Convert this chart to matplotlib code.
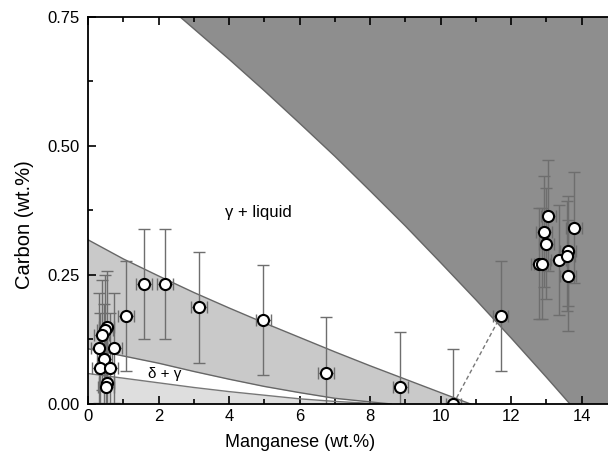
import numpy as np
import matplotlib.pyplot as plt
from matplotlib.ticker import MultipleLocator

plt.rcParams['font.family'] = ['Liberation Sans', 'DejaVu Sans']

# measured compositions (wt.%)
mn = [1.59, 2.18, 3.15, 1.07, 4.97, 6.75, 8.86, 10.36, 11.70,
      0.52, 0.48, 0.38, 0.31, 0.74, 0.46, 0.33, 0.62, 0.52, 0.50,
      13.06, 12.94, 13.00, 12.78, 12.87, 13.35, 13.62, 13.59, 13.62, 13.78]
carbon = [0.233, 0.233, 0.187, 0.171, 0.163, 0.061, 0.032, 0.0, 0.170,
          0.150, 0.143, 0.134, 0.108, 0.108, 0.087, 0.069, 0.069, 0.040, 0.032,
          0.365, 0.334, 0.311, 0.272, 0.272, 0.279, 0.296, 0.287, 0.249, 0.342]
mn_err = 0.22
c_err = 0.107

# phase boundaries
liq_mn = [2.61, 3, 4, 5, 6, 7, 8, 9, 10, 11, 12, 13, 13.67]
liq_c = [0.75, 0.727, 0.668, 0.607, 0.544, 0.480, 0.413, 0.345, 0.274, 0.202, 0.128, 0.052, 0.0]

gam_mn = [0, 1, 2, 3, 4, 5, 6, 7, 8, 9, 10, 10.85]
gam_c = [0.318, 0.281, 0.248, 0.216, 0.186, 0.157, 0.129, 0.101, 0.074, 0.048, 0.022, 0.0]

dg_mn = [0, 1, 2, 3, 4, 5, 6, 7, 8, 8.6]
dg_c = [0.107, 0.093, 0.079, 0.063, 0.048, 0.034, 0.022, 0.011, 0.004, 0.0]

d_mn = [0, 1, 2, 3, 4, 5, 6, 7, 7.8, 8.3]
d_c = [0.059, 0.050, 0.041, 0.032, 0.024, 0.017, 0.010, 0.005, 0.002, 0.0]

# tie line between two points
tie_mn = [10.36, 11.70]
tie_c = [0.0, 0.170]

fig = plt.figure(figsize=(6.08, 4.57), dpi=100)
ax = fig.add_axes([0.1451, 0.116, 0.8549, 0.8468])

xmax = 14.75
ymax = 0.75

# dark region: gamma + liquid boundary to the right
ax.fill(liq_mn + [xmax, xmax], liq_c + [0, ymax], color='#8e8e8e', lw=0, zorder=1)
ax.plot(liq_mn, liq_c, color='#666666', lw=1.0, zorder=2)

# medium band
ax.fill_between(gam_mn, gam_c, np.interp(gam_mn, dg_mn, dg_c, right=0),
                color='#c9c9c9', lw=0, zorder=1)
ax.plot(gam_mn, gam_c, color='#666666', lw=1.0, zorder=2)
ax.plot(dg_mn, dg_c, color='#666666', lw=1.0, zorder=2)

# lowest band
ax.fill_between(d_mn, d_c, 0, color='#dedede', lw=0, zorder=1)
ax.plot(d_mn, d_c, color='#777777', lw=1.0, zorder=2)

ax.plot(tie_mn, tie_c, color='#777777', lw=1.0, ls=(0, (3, 2)), zorder=3)

ax.errorbar(mn, carbon, xerr=mn_err, yerr=c_err, fmt='none', ecolor='#6e6e6e',
            elinewidth=1.0, capsize=4, capthick=1.0, zorder=4)
ax.plot(mn, carbon, 'o', ms=8, mfc='white', mec='black', mew=1.5, ls='none', zorder=5)

ax.text(4.82, 0.372, 'γ + liquid', ha='center', va='center', fontsize=12)
ax.text(2.18, 0.058, 'δ + γ', ha='center', va='center', fontsize=11)

ax.set_xlim(0, xmax)
ax.set_ylim(0, ymax)
ax.xaxis.set_major_locator(MultipleLocator(2))
ax.xaxis.set_minor_locator(MultipleLocator(1))
ax.yaxis.set_major_locator(MultipleLocator(0.25))
ax.yaxis.set_minor_locator(MultipleLocator(0.125))
ax.yaxis.set_major_formatter(plt.FormatStrFormatter('%.2f'))
ax.tick_params(which='both', direction='in', top=True, right=False, labelsize=12, width=1.2)
ax.tick_params(which='major', length=6)
ax.tick_params(axis='y', which='major', pad=6)
ax.tick_params(which='minor', length=3.5)
ax.spines['right'].set_visible(False)
for s in ['left', 'bottom', 'top']:
    ax.spines[s].set_linewidth(1.3)
    ax.spines[s].set_zorder(6)

ax.set_xlabel('Manganese (wt.%)', fontsize=13)
ax.set_ylabel('Carbon (wt.%)', fontsize=14.5)
ax.xaxis.set_label_coords(0.408, -0.078)
ax.yaxis.set_label_coords(-0.104, 0.4625)

fig.savefig('out.png', dpi=100)
